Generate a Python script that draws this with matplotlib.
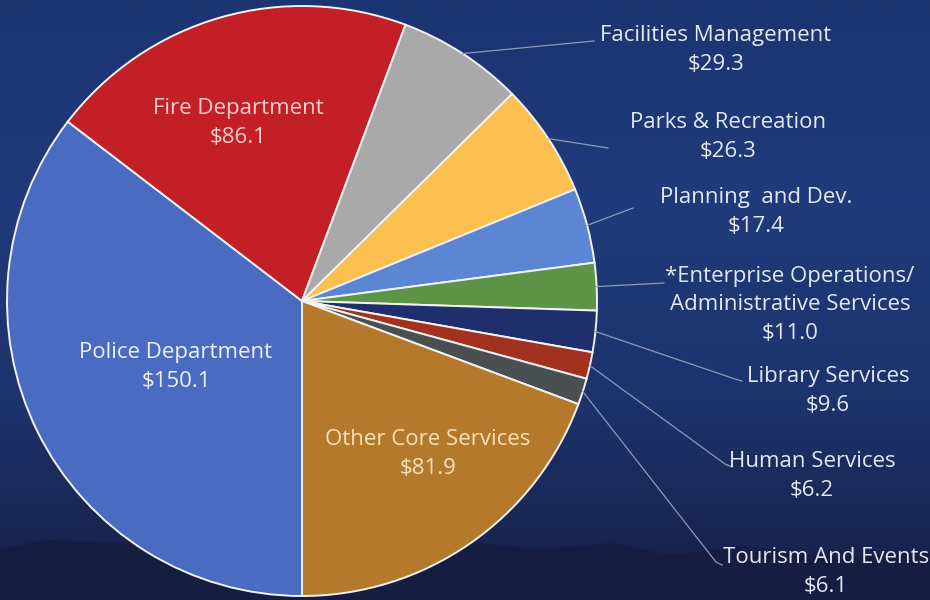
import numpy as np
import matplotlib.pyplot as plt
from matplotlib.colors import LinearSegmentedColormap

plt.rcParams['font.family'] = ['Open Sans', 'DejaVu Sans']

# data (millions of dollars)
categories = ['Police Department', 'Fire Department', 'Facilities Management',
              'Parks & Recreation', 'Planning  and Dev.',
              '*Enterprise Operations/\nAdministrative Services',
              'Library Services', 'Human Services', 'Tourism And Events',
              'Other Core Services']
values = [150.1, 86.1, 29.3, 26.3, 17.4, 11.0, 9.6, 6.2, 6.1, 81.9]
colors = ['#4A6BC2', '#C31F26', '#A9A9A9', '#FBC050', '#5B86D4', '#5E9447',
          '#1F2E6C', '#A3311F', '#4A4F52', '#B4792B']

W, H = 930, 600
fig = plt.figure(figsize=(9.3, 6), dpi=100)

# background gradient
bg = fig.add_axes([0, 0, 1, 1])
bg.set_axis_off()
grad = np.linspace(0, 1, 256).reshape(-1, 1)
cmap = LinearSegmentedColormap.from_list('bg', ['#1D3472', '#203A7B', '#1D336C', '#161F45'])
bg.imshow(grad, aspect='auto', cmap=cmap, extent=[0, 1, 0, 1], origin='upper')
# faint mountain silhouette near the bottom
mx = np.array([0, 0.05, 0.12, 0.2, 0.3, 0.38, 0.48, 0.58, 0.66, 0.72, 0.8, 0.9, 1.0])
my = np.array([0.085, 0.10, 0.095, 0.105, 0.09, 0.098, 0.10, 0.085, 0.095, 0.075, 0.09, 0.07, 0.08])
bg.fill_between(mx, 0, my, color='#151E40', alpha=0.85, lw=0)
bg.set_xlim(0, 1)
bg.set_ylim(0, 1)

ax = fig.add_axes([0, 0, 1, 1])
ax.set_axis_off()

cx, cy, r = 302, H - 301, 295
wedges, _ = ax.pie(values, colors=colors, startangle=-90, counterclock=False,
                   center=(cx, cy), radius=r, frame=True,
                   wedgeprops=dict(edgecolor='#F2F2F2', linewidth=1.4))
ax.set_xlim(0, W)
ax.set_ylim(0, H)
ax.set_aspect('equal')
ax.set_axis_off()

def fy(y):
    return H - y

FS = 16

# labels inside the big slices
inside = {0: ((176, 367), '#EEF1FA'), 1: ((238, 123), '#F7CFCF'), 9: ((428, 454), '#F8E3B8')}
for i, ((x, y), c) in inside.items():
    ax.text(x, fy(y), f'{categories[i]}\n${values[i]:.1f}', ha='center', va='center',
            color=c, fontsize=FS, linespacing=1.45)

# outside labels with leader lines
label_pos = {2: (716, 50), 3: (728, 137), 4: (756, 212), 5: (790, 305),
             6: (828, 391), 7: (812, 476), 8: (826, 572)}
line_end = {2: [(594, 41)], 3: [(608, 148)], 4: [(633, 208)], 5: [(664, 283)],
            6: [(735, 379), (742, 381)], 7: [(725, 464), (732, 467)],
            8: [(716, 562), (722, 565)]}
txt_col = '#E4E8F2'
for i in label_pos:
    w = wedges[i]
    mid = np.deg2rad((w.theta1 + w.theta2) / 2)
    ex, ey = cx + r * np.cos(mid), cy + r * np.sin(mid)
    pts = [(ex, ey)] + [(px, fy(py)) for px, py in line_end[i]]
    xs, ys = zip(*pts)
    ax.plot(xs, ys, color='#8E9AB8', lw=0.9)
    x, y = label_pos[i]
    ax.text(x, fy(y), f'{categories[i]}\n${values[i]:.1f}', ha='center', va='center',
            color=txt_col, fontsize=FS, linespacing=1.45)

fig.savefig('out.png', dpi=100)
